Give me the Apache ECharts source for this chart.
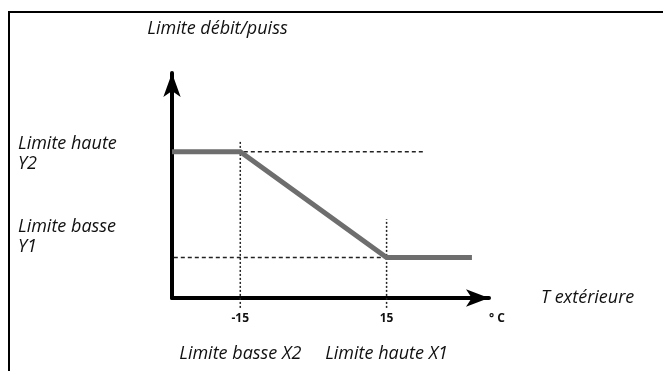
<!DOCTYPE html>
<html>
<head>
<meta charset="utf-8">
<script src="https://cdn.jsdelivr.net/npm/echarts@6/dist/echarts.min.js"></script>
<style>
  html, body { margin: 0; padding: 0; background: #fff; }
  #main { width: 663px; height: 371px; }
</style>
</head>
<body>
<div id="main"></div>
<script>
// axis values
var xTicks = [-15, 15];
var xTickText = ['-15', '15'];
var xLimitNames = ['Limite basse X2', 'Limite haute X1'];
var unitValue = 36;
var unitText = '° C';
var yLevels = [65, 18];
var yLevelNames = [['Limite haute', 'Y2'], ['Limite basse', 'Y1']];

// the limit curve
var curveX = [-29, -15, 15, 32.5];
var curveY = [65, 65, 18, 18];

// guide lines [from, to, at]
var guideH = [[-31.5, 22.5, 65], [-31.5, 15, 18]];
var guideV = [[-15, -4.4, 70], [15, -4.4, 35]];

var font = 'Open Sans';

var chart = echarts.init(document.getElementById('main'));

var series = [];
guideH.forEach(function (g) {
    series.push({
        type: 'line', symbol: 'none', clip: false, z: 1, silent: true,
        lineStyle: { color: '#222', width: 1.5, type: [4, 3] },
        data: [[g[0], g[2]], [g[1], g[2]]]
    });
});
guideV.forEach(function (g) {
    series.push({
        type: 'line', symbol: 'none', clip: false, z: 1, silent: true,
        lineStyle: { color: '#222', width: 1.5, type: [2, 2] },
        data: [[g[0], g[1]], [g[0], g[2]]]
    });
});
series.push({
    type: 'line', symbol: 'none', clip: false, z: 3,
    lineStyle: { color: '#6e6e6e', width: 5, cap: 'butt', join: 'miter' },
    data: curveX.map(function (x, i) { return [x, curveY[i]]; })
});

var option = {
    animation: false,
    grid: { left: 172, top: 73, width: 317, height: 225, containLabel: false, outerBoundsMode: 'none' },
    xAxis: {
        type: 'value', min: -29, max: 36,
        name: 'T extérieure', nameLocation: 'end', nameGap: 52,
        nameTextStyle: { fontFamily: font, fontStyle: 'italic', fontSize: 18, color: '#111', padding: [16, 0, 0, 0] },
        axisLine: { show: true, onZero: false, symbol: ['none', 'arrow'], symbolSize: [13, 23], lineStyle: { color: '#000', width: 4 } },
        axisTick: { show: false },
        splitLine: { show: false },
        axisLabel: {
            customValues: xTicks.concat([unitValue]),
            margin: 14,
            formatter: function (v) {
                var i = xTicks.indexOf(v);
                if (i < 0) return '{u|' + unitText + '}';
                return '{t|' + xTickText[i] + '}\n{n|' + xLimitNames[i] + '}';
            },
            rich: {
                t: { fontFamily: font, fontWeight: 'bold', fontSize: 12, lineHeight: 14, color: '#111' },
                u: { fontFamily: font, fontWeight: 'bold', fontSize: 12, lineHeight: 14, color: '#111', padding: [0, 0, 0, 16] },
                n: { fontFamily: font, fontStyle: 'italic', fontSize: 18, lineHeight: 55, color: '#111' }
            }
        }
    },
    yAxis: {
        type: 'value', min: 0, max: 100,
        name: 'Limite débit/puiss', nameLocation: 'end', nameGap: 35,
        nameTextStyle: { fontFamily: font, fontStyle: 'italic', fontSize: 18, color: '#111', padding: [0, 0, 0, 91] },
        axisLine: { show: true, onZero: false, symbol: ['none', 'arrow'], symbolSize: [13, 24], lineStyle: { color: '#000', width: 4 } },
        axisTick: { show: false },
        splitLine: { show: false },
        axisLabel: {
            customValues: yLevels,
            align: 'left',
            margin: 154,
            formatter: function (v) {
                var i = yLevels.indexOf(v);
                var txt = '{a|' + yLevelNames[i][0] + '}\n{a|' + yLevelNames[i][1] + '}';
                // the lower label sits above its level line
                return i === 0 ? '{top| }\n' + txt : txt + '\n{bot| }';
            },
            rich: {
                a: { fontFamily: font, fontStyle: 'italic', fontSize: 18, lineHeight: 20, color: '#111' },
                top: { fontSize: 4, lineHeight: 4 },
                bot: { fontSize: 4, lineHeight: 42 }
            }
        }
    },
    graphic: [
        { type: 'line', shape: { x1: 8, y1: 12, x2: 663, y2: 12 }, style: { stroke: '#000', lineWidth: 2 } },
        { type: 'line', shape: { x1: 9, y1: 12, x2: 9, y2: 371 }, style: { stroke: '#000', lineWidth: 2 } }
    ],
    series: series
};

chart.setOption(option);
</script>
</body>
</html>
